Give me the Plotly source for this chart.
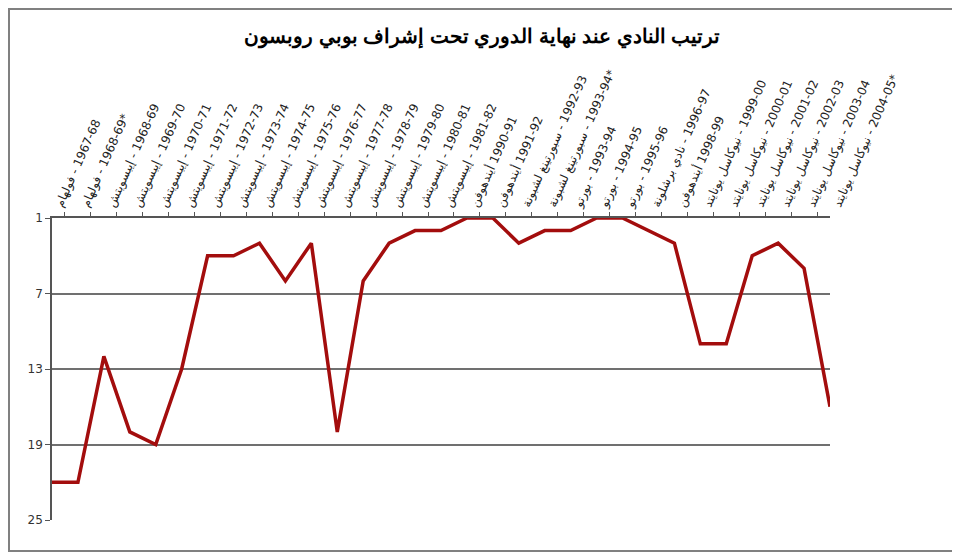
import plotly.graph_objects as go

clubs = [
    'فولهام - ', 'فولهام - ',
    'إيبسويتش - ', 'إيبسويتش - ', 'إيبسويتش - ', 'إيبسويتش - ', 'إيبسويتش - ',
    'إيبسويتش - ', 'إيبسويتش - ', 'إيبسويتش - ', 'إيبسويتش - ', 'إيبسويتش - ',
    'إيبسويتش - ', 'إيبسويتش - ', 'إيبسويتش - ', 'إيبسويتش - ',
    'أيندهوفن ', 'أيندهوفن ',
    'سبورتينغ لشبونة - ', 'سبورتينغ لشبونة - ',
    'بورتو - ', 'بورتو - ', 'بورتو - ',
    'نادي برشلونة - ', 'أيندهوفن ',
    'نيوكاسل يونايتد - ', 'نيوكاسل يونايتد - ', 'نيوكاسل يونايتد - ',
    'نيوكاسل يونايتد - ', 'نيوكاسل يونايتد - ', 'نيوكاسل يونايتد - ',
]
seasons = [
    '1967-68', '1968-69*', '1968-69', '1969-70', '1970-71', '1971-72', '1972-73',
    '1973-74', '1974-75', '1975-76', '1976-77', '1977-78', '1978-79', '1979-80',
    '1980-81', '1981-82', '1990-91', '1991-92', '1992-93', '1993-94*', '1993-94',
    '1994-95', '1995-96', '1996-97', '1998-99', '1999-00', '2000-01', '2001-02',
    '2002-03', '2003-04', '2004-05*',
]
positions = [22, 22, 12, 18, 19, 13, 4, 4, 3, 6, 3, 18, 6, 3, 2, 2, 1, 1, 3, 2, 2,
             1, 1, 2, 3, 11, 11, 4, 3, 5, 16]

# LRM marks keep club name first and the season digits in their normal order
lrm = '\u200e'
labels = [lrm + c + lrm + s for c, s in zip(clubs, seasons)]

fig = go.Figure()
fig.add_trace(go.Scatter(
    x=labels, y=positions, mode='lines',
    line=dict(color='#A30D0D', width=3.5),
    showlegend=False, hoverinfo='skip',
))

# page is shown with an 8px body margin, so the margins are shifted by 8
fig.update_layout(
    width=960, height=554,
    paper_bgcolor='white', plot_bgcolor='white',
    margin=dict(l=44, r=138, t=210, b=42, autoexpand=False),
    title=dict(text='<b>ترتيب النادي عند نهاية الدوري تحت إشراف بوبي روبسون</b>',
               x=0.494, xref='container', xanchor='center', y=0.95, yanchor='middle',
               font=dict(family='Liberation Sans, Arial', size=20, color='black')),
    font=dict(family='DejaVu Sans, Verdana', size=11, color='#222222'),
)
fig.update_xaxes(
    type='category', side='top', tickangle=-66, automargin=False,
    showline=True, linecolor='#555555', linewidth=1.5,
    ticks='outside', tickson='boundaries', ticklen=4, tickcolor='#555555',
    ticklabelshift=5,
    showgrid=False, tickfont=dict(size=12, color='#222222'),
)
fig.update_yaxes(
    range=[25, 1], tickvals=[1, 7, 13, 19, 25], automargin=False,
    showline=True, linecolor='#555555', linewidth=1.5,
    ticks='outside', ticklen=5, tickcolor='#555555',
    showgrid=True, gridcolor='#707070', gridwidth=1.5, zeroline=False,
    tickfont=dict(size=12, color='#333333'),
)
# outer chart frame (plot area is 778 x 302 px, left 44 / top 210 in the figure)
fig.add_shape(type='rect', xref='paper', yref='paper',
              x0=-43 / 778, x1=903 / 778, y0=-31 / 302, y1=511 / 302,
              line=dict(color='#808080', width=2), fillcolor='rgba(0,0,0,0)')

fig.write_html('out.html')
